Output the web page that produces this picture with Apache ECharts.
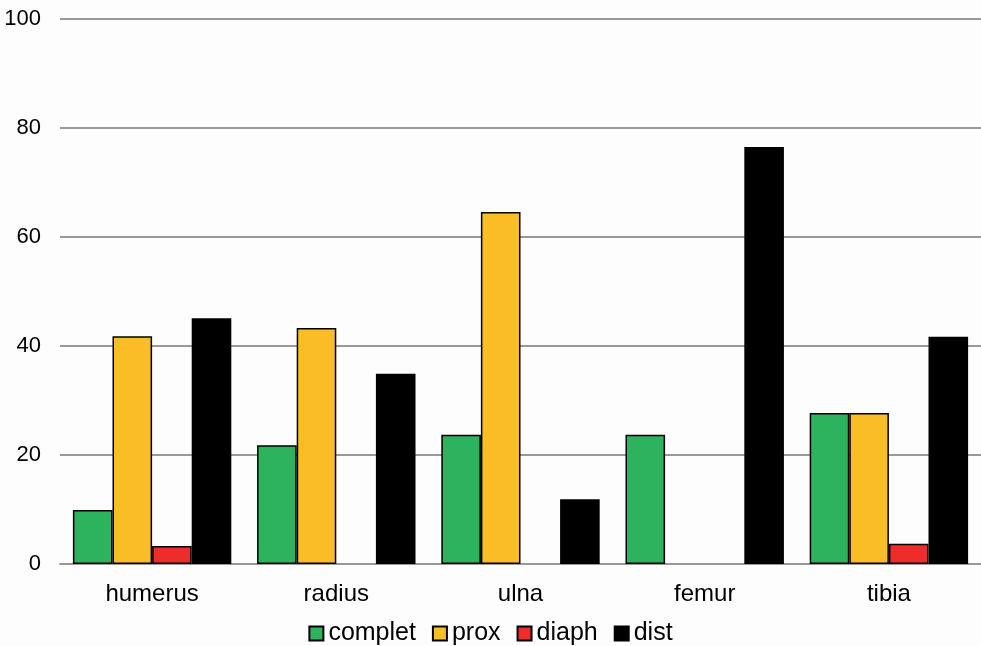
<!DOCTYPE html>
<html><head><meta charset="utf-8">
<script src="https://cdn.jsdelivr.net/npm/echarts@6/dist/echarts.min.js"></script>
<style>html,body{margin:0;padding:0;background:#fdfdfd}#c{width:981px;height:646px}</style>
</head><body><div id="c"></div>
<script>
const categories = ['humerus','radius','ulna','femur','tibia'];
const complet = [9.9, 21.8, 23.7, 23.7, 27.7];
const prox = [41.8, 43.3, 64.6, null, 27.7];
const diaph = [3.3, null, null, null, 3.7];
const dist = [45.1, 34.9, 11.9, 76.5, 41.7];
const yTicks = [0, 20, 40, 60, 80, 100];

const chart = echarts.init(document.getElementById('c'));
const font = 'Liberation Sans, Arial, sans-serif';
function s(name, data, color) {
  return {name, type:'bar', data, barGap:'0%', barCategoryGap:'14%',
    itemStyle:{color, borderColor:'#000', borderWidth:1.5}};
}
chart.setOption({
  backgroundColor:'#fdfdfd',
  animation:false,
  grid:{left:60, right:0, top:19, bottom:82},
  legend:{top:619, left:'center', padding:[2,5,2,5], icon:'rect', itemWidth:14, itemHeight:14, itemGap:16,
    textStyle:{fontFamily:font, fontSize:25, color:'#000', padding:[0,0,0,0]},
    data:['complet','prox','diaph','dist']},
  xAxis:{type:'category', data:categories,
    axisLine:{lineStyle:{color:'#999', width:2}}, axisTick:{show:false},
    axisLabel:{fontFamily:font, fontSize:24, color:'#000', margin:18}},
  yAxis:{type:'value', min:0, max:100, interval:20,
    axisLine:{show:false}, axisTick:{show:false},
    splitLine:{lineStyle:{color:'#999', width:2}},
    axisLabel:{fontFamily:font, fontSize:22, color:'#000', margin:19,
      formatter:v=>yTicks.includes(v)?String(v):''}},
  series:[s('complet',complet,'#2db25d'), s('prox',prox,'#fbbd26'),
          s('diaph',diaph,'#ee2c2c'), s('dist',dist,'#000000')]
});
</script></body></html>
